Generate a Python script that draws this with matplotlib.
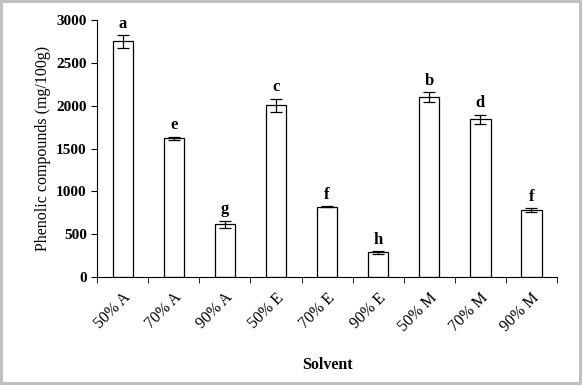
import matplotlib
matplotlib.use('Agg')
import matplotlib.pyplot as plt
import numpy as np

# solvent extracts and phenolic content (mg/100g)
solvents = ['50% A', '70% A', '90% A', '50% E', '70% E', '90% E', '50% M', '70% M', '90% M']
phenolics = [2750, 1620, 615, 2005, 823, 290, 2100, 1840, 785]
errors = [75, 18, 45, 75, 6, 15, 55, 55, 22]
letters = ['a', 'e', 'g', 'c', 'f', 'h', 'b', 'd', 'f']

plt.rcParams['font.family'] = ['Liberation Serif', 'DejaVu Serif']

fig = plt.figure(figsize=(5.82, 3.85), dpi=100)
fig.patch.set_edgecolor('#c0c0c0')
fig.patch.set_linewidth(3)
ax = fig.add_axes([0.167, 0.28, 0.79, 0.668])

x = np.arange(len(solvents))
ax.bar(x, phenolics, width=0.4, color='white', edgecolor='black', linewidth=0.9)
ax.errorbar(x, phenolics, yerr=errors, fmt='none', ecolor='black', elinewidth=0.9, capsize=4, capthick=0.9)

# significance letters above the error bars
for xi, v, e, l in zip(x, phenolics, errors, letters):
    ax.text(xi, v + e + 40, l, ha='center', va='bottom', fontsize=12, fontweight='bold')

ax.set_xlim(-0.5, len(solvents) - 0.5)
ax.set_ylim(0, 3000)
ax.set_yticks(range(0, 3001, 500))
for t in ax.get_yticklabels():
    t.set_fontweight('bold')
ax.tick_params(axis='y', labelsize=11, direction='out', length=4)

ax.set_xticks(x)
ax.set_xticklabels(solvents, rotation=45, ha='right', rotation_mode='anchor', fontsize=11.5)
ax.tick_params(axis='x', which='major', length=0, pad=9)
ax.set_xticks(np.arange(-0.5, len(solvents)), minor=True)
ax.tick_params(axis='x', which='minor', length=4, direction='out')

ax.spines['top'].set_visible(False)
ax.spines['right'].set_visible(False)

ax.set_ylabel('Phenolic compounds (mg/100g)', fontsize=11.5)
ax.set_xlabel('Solvent', fontsize=11.5, fontweight='bold', labelpad=16)

fig.savefig('out.png', dpi=100)
